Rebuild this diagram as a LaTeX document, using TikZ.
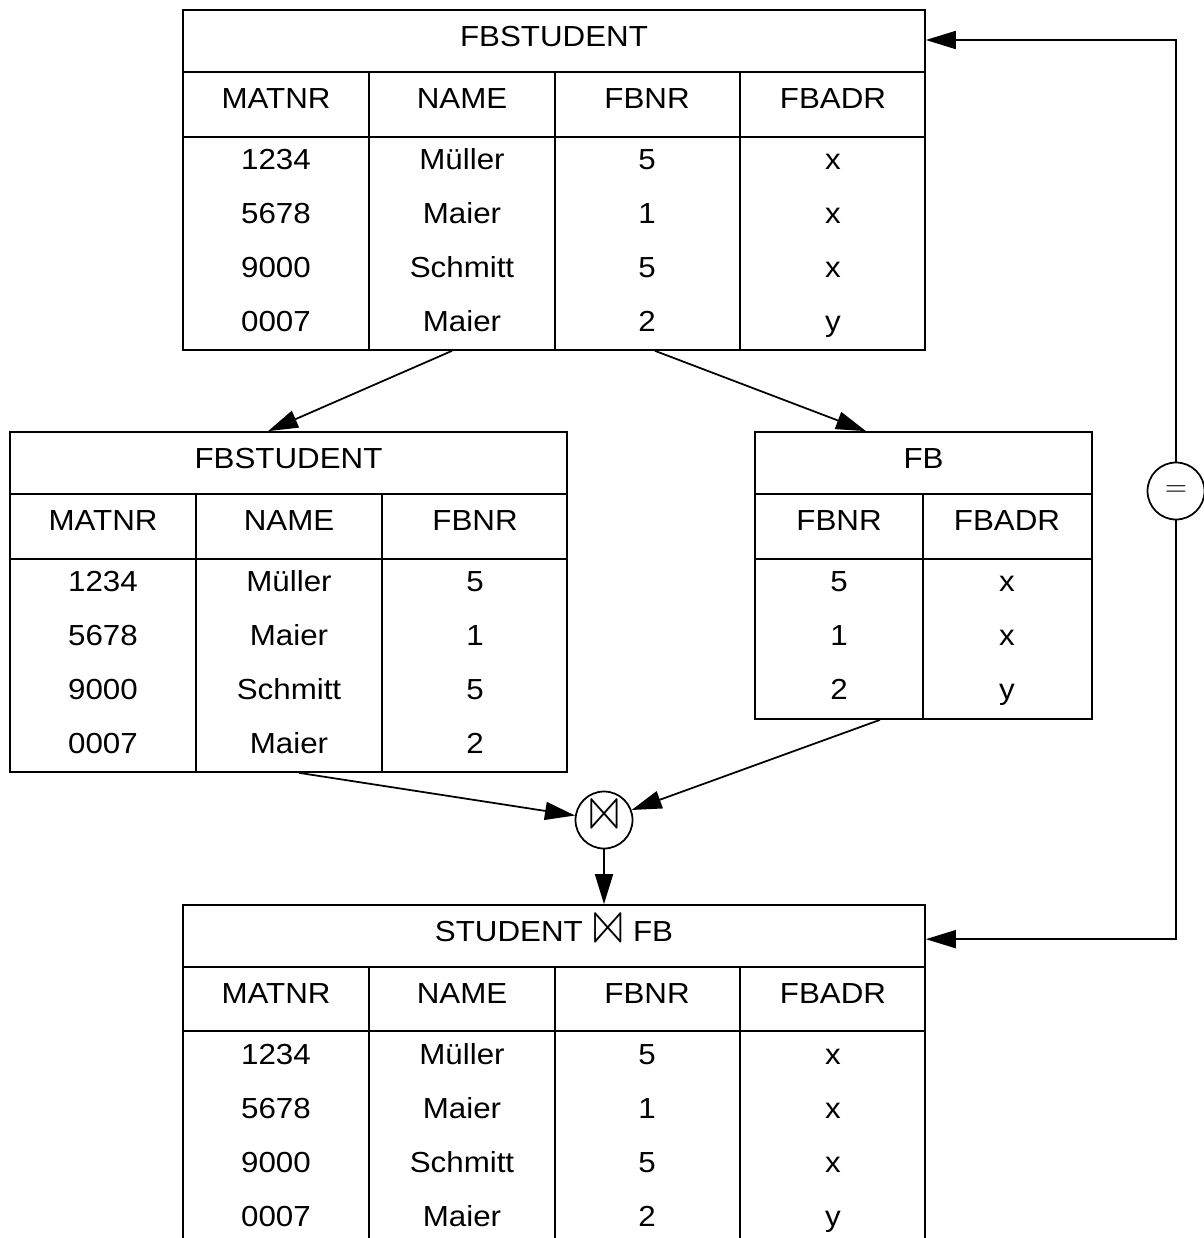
\documentclass[tikz,border=0pt]{standalone}
\usepackage{fontspec}
\setmainfont[FakeStretch=1.08]{Liberation Sans}
\usepackage{latexsym}
\usetikzlibrary{arrows.meta,positioning,calc}

\tikzset{
  tbl/.style={draw, line width=1pt, inner sep=0pt},
  grid/.style={line width=1pt},
  cell/.style={font=\fontsize{16.5}{20}\selectfont, inner sep=0pt, text height=14.9pt, text depth=3pt},
  op/.style={draw, circle, line width=1pt, minimum size=1.14cm, inner sep=0pt},
  flow/.style={line width=1pt, -{Triangle[length=0.6cm,width=0.36cm]}}
}
\newcommand{\joinsym}{\raisebox{-0.12em}{\scalebox{1.5}[1.7]{$\Join$}}}

\begin{document}
\begin{tikzpicture}[x=0.02cm,y=-0.02cm]
	\clip (0,0) rectangle (1204,1238);

	% FBSTUDENT (upper)
	\node[tbl, minimum width=14.84cm, minimum height=6.8cm] (fbstud) at (554,180) {};
	\draw[grid] (183,72) -- (925,72) (183,137) -- (925,137);
	\foreach \x in {369,555,740} \draw[grid] (\x,72) -- (\x,350);
	\node[cell] (fbstudT) at (554,36.5) {FBSTUDENT};
	\foreach \x/\h in {276/MATNR,462/NAME,647/FBNR,833/FBADR}
		\node[cell] (fbstud\h) at (\x,98) {\h};
	\foreach \m/\n/\f/\a [count=\i] in {1234/Müller/5/x,5678/Maier/1/x,9000/Schmitt/5/x,0007/Maier/2/y} {
		\node[cell] (fbstudM\i) at (276,105+54*\i) {\m};
		\node[cell] (fbstudN\i) at (462,105+54*\i) {\n};
		\node[cell] (fbstudF\i) at (647,105+54*\i) {\f};
		\node[cell] (fbstudA\i) at (833,105+54*\i) {\a};
	}

	% FBSTUDENT (projection)
	\node[tbl, minimum width=11.14cm, minimum height=6.8cm] (proj) at (288.5,602) {};
	\draw[grid] (10,494) -- (567,494) (10,559) -- (567,559);
	\foreach \x in {196,382} \draw[grid] (\x,494) -- (\x,772);
	\node[cell] (projT) at (288.5,458.5) {FBSTUDENT};
	\foreach \x/\h in {103/MATNR,289/NAME,475/FBNR}
		\node[cell] (proj\h) at (\x,520) {\h};
	\foreach \m/\n/\f [count=\i] in {1234/Müller/5,5678/Maier/1,9000/Schmitt/5,0007/Maier/2} {
		\node[cell] (projM\i) at (103,527+54*\i) {\m};
		\node[cell] (projN\i) at (289,527+54*\i) {\n};
		\node[cell] (projF\i) at (475,527+54*\i) {\f};
	}

	% FB
	\node[tbl, minimum width=6.74cm, minimum height=5.74cm] (fb) at (923.5,575.5) {};
	\draw[grid] (755,494) -- (1092,494) (755,559) -- (1092,559);
	\draw[grid] (923,494) -- (923,719);
	\node[cell] (fbT) at (923.5,458.5) {FB};
	\foreach \x/\h in {839/FBNR,1007/FBADR}
		\node[cell] (fb\h) at (\x,520) {\h};
	\foreach \f/\a [count=\i] in {5/x,1/x,2/y} {
		\node[cell] (fbF\i) at (839,527+54*\i) {\f};
		\node[cell] (fbA\i) at (1007,527+54*\i) {\a};
	}

	% join result
	\node[tbl, minimum width=14.84cm, minimum height=6.8cm] (result) at (554,1075) {};
	\draw[grid] (183,967) -- (925,967) (183,1031) -- (925,1031);
	\foreach \x in {369,555,740} \draw[grid] (\x,967) -- (\x,1245);
	\node[cell] (resultT) at (554,931.5) {STUDENT \joinsym{} FB};
	\foreach \x/\h in {276/MATNR,462/NAME,647/FBNR,833/FBADR}
		\node[cell] (result\h) at (\x,993) {\h};
	\foreach \m/\n/\f/\a [count=\i] in {1234/Müller/5/x,5678/Maier/1/x,9000/Schmitt/5/x,0007/Maier/2/y} {
		\node[cell] (resultM\i) at (276,1000+54*\i) {\m};
		\node[cell] (resultN\i) at (462,1000+54*\i) {\n};
		\node[cell] (resultF\i) at (647,1000+54*\i) {\f};
		\node[cell] (resultA\i) at (833,1000+54*\i) {\a};
	}

	% operators
	\node[op] (join) at (604,820) {\fontsize{19}{22}\selectfont\joinsym};
	\node[op] (eq) at (1176,491) {\fontsize{17}{20}\selectfont$=$};

	\draw[flow] ($(fbstud.south)+(-102,0)$) -- ($(proj.north)+(-20.5,0)$);
	\draw[flow] ($(fbstud.south)+(101,0)$) -- ($(fb.north)+(-57.5,0)$);
	\draw[flow] ($(proj.south)+(10.5,0)$) -- (join);
	\draw[flow] ($(fb.south)+(-43.5,0)$) -- (join);
	\draw[flow] (join) -- (join |- result.north);
	\draw[flow] (eq.north) |- ($(fbstud.east)+(0,-140)$);
	\draw[flow] (eq.south) |- ($(result.north east)+(0,35)$);
\end{tikzpicture}
\end{document}
